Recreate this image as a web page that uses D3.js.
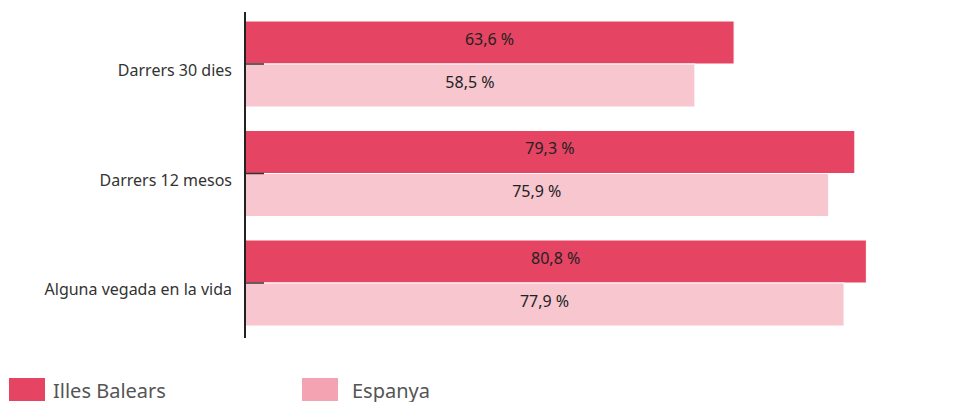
<!DOCTYPE html>
<html><head><meta charset="utf-8">
<script src="https://cdn.jsdelivr.net/npm/d3@7"></script>
<style>
html,body{margin:0;padding:0;background:#fff;overflow:hidden;}
svg{display:block;font-family:"Noto Sans", "Open Sans", sans-serif;}
</style></head>
<body>
<svg id="chart" width="957" height="402"></svg>
<script>
const categories = ["Darrers 30 dies", "Darrers 12 mesos", "Alguna vegada en la vida"];
const seriesNames = ["Illes Balears", "Espanya"];
const illesBalears = [63.6, 79.3, 80.8];
const espanya = [58.5, 75.9, 77.9];
const barColors = ["#e54462", "#f7c6cf"];
const legendColors = ["#e54462", "#f4a3b2"];

const svg = d3.select("#chart");
const axisX = 245;
const x = d3.scaleLinear().domain([0, 100]).range([axisX, axisX + 769]);
const y0 = d3.scaleBand().domain(categories).range([21, 326]).paddingInner(0.2146).paddingOuter(0);
const y1 = d3.scaleBand().domain(seriesNames).range([0, y0.bandwidth()]).padding(0);

const data = categories.map((c, i) => ({cat: c, vals: [
  {s: seriesNames[0], v: illesBalears[i], col: barColors[0]},
  {s: seriesNames[1], v: espanya[i], col: barColors[1]}
]}));

const groups = svg.selectAll("g.grp").data(data).join("g")
  .attr("class", "grp")
  .attr("transform", d => `translate(0,${y0(d.cat)})`);

groups.selectAll("rect").data(d => d.vals).join("rect")
  .attr("x", x(0))
  .attr("y", d => y1(d.s))
  .attr("width", d => x(d.v) - x(0))
  .attr("height", y1.bandwidth())
  .attr("fill", d => d.col)
  .attr("stroke", "#fff")
  .attr("stroke-width", 1);

groups.selectAll("text.val").data(d => d.vals).join("text")
  .attr("class", "val")
  .attr("x", d => (x(0) + x(d.v)) / 2)
  .attr("y", d => y1(d.s) + y1.bandwidth() / 2 + 2.5)
  .attr("text-anchor", "middle")
  .attr("font-size", 16)
  .attr("fill", "#222")
  .text(d => d.v.toFixed(1).replace(".", ",") + " %");

const axis = d3.axisLeft(y0).tickSizeInner(-19).tickSizeOuter(0).tickPadding(32);
const ag = svg.append("g").attr("transform", `translate(${axisX},0)`).call(axis);
ag.select(".domain").remove();
ag.append("line").attr("x1", 0).attr("x2", 0).attr("y1", 12).attr("y2", 338)
  .attr("stroke", "#222").attr("stroke-width", 2);
ag.selectAll(".tick line").attr("stroke", "#333").attr("stroke-width", 1.5);
ag.selectAll(".tick text").attr("font-size", 16).attr("fill", "#333")
  .attr("font-family", "'Noto Sans', 'Open Sans', sans-serif")
  .attr("x", -13).attr("y", 12).attr("dy", null);

const legend = svg.append("g");
const legX = [9, 302];
const legTextX = [53, 352];
seriesNames.forEach((s, i) => {
  legend.append("rect").attr("x", legX[i]).attr("y", 378).attr("width", 36).attr("height", 23).attr("fill", legendColors[i]);
  legend.append("text").attr("x", legTextX[i]).attr("y", 398).attr("font-size", 20).attr("fill", "#555").text(s);
});
</script>
</body></html>
